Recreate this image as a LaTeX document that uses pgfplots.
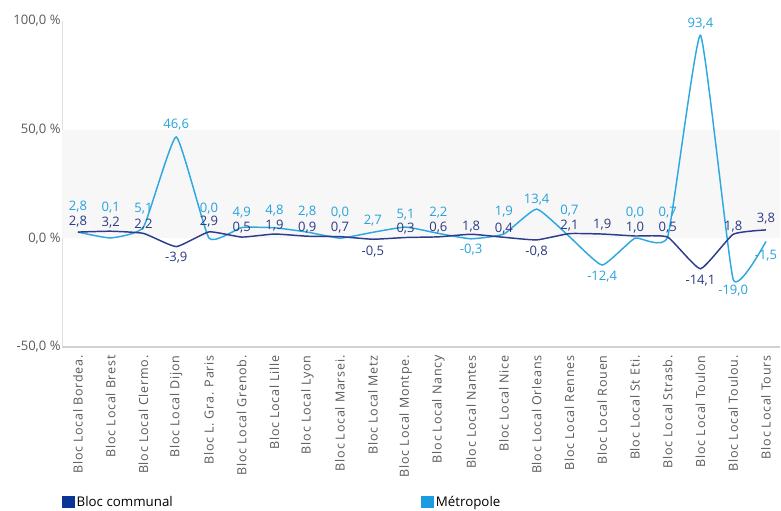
\documentclass[border=0pt]{standalone}
\usepackage{pgfplots}
\pgfplotsset{compat=1.18}
\usepackage{pgfplotstable}
\usepackage{fontspec}
\setmainfont{Open Sans}
\newfontfamily\xlab{Open Sans}[LetterSpace=6]
\definecolor{darkl}{HTML}{2E3C8C}
\definecolor{darkt}{HTML}{2B3A85}
\definecolor{lightl}{HTML}{2EA8E0}
\definecolor{lightt}{HTML}{27A2DC}
\definecolor{legd}{HTML}{0A3597}
\definecolor{legl}{HTML}{1D9BE2}
\definecolor{band}{HTML}{F7F7F7}
\definecolor{tickc}{HTML}{5A5A5A}
\pgfplotstableread{
x dark doff lite loff lx
0  2.8   7.5   2.8  18.75 0
1  3.2   6.75  0.1  22.5  0
2  2.2   6.75  5.1  13.5  0
3  -3.9  -7.9  46.6 9     0
4  2.9   7.5   0.0  22.5  0
5  0.5   6.75  4.9  11.25 0
6  1.9   6     4.8  12.75 0
7  0.9   6.75  2.8  15    0
8  0.7   7.1   0.0  19.5  0
9  -0.5  -9    2.7  9     0
10 0.3   6.75  5.1  9     0
11 0.6   6.75  2.2  15.75 0
12 1.8   6     -0.3 -8.25 0
13 0.4   6.75  1.9  16.5  0
14 -0.8  -9    13.4 6.75  0
15 2.1   6     0.7  19.5  0
16 1.9   6.75  -12.4 -9   0
17 1.0   6     0.0  19.5  0
18 0.5   6.75  0.7  18    0
19 -14.1 -9    93.4 9     0
20 1.8   6     -19.0 -8.25 0
21 3.8   8.25  -1.5 -10.5  0
}\data
\begin{document}
\begin{tikzpicture}
\begin{axis}[
  width=539pt, height=244.5pt, scale only axis,
  xmin=-0.49, xmax=21.43, ymin=-50, ymax=100,
  clip=false,
  axis x line=bottom, axis y line=left,
  axis line style={-},
  x axis line style={draw=black!18, line width=1.4pt},
  y axis line style={draw=black!12, line width=0.6pt},
  major tick length=0pt,
  ytick={-50,0,50,100},
  yticklabels={{-50,0 \%},{0,0 \%},{50,0 \%},{100,0 \%}},
  yticklabel style={font=\fontsize{9.8}{11}\selectfont, text=tickc, xshift=2.5pt},
  xtick={0,...,21},
  xticklabels={Bloc Local Bordea.,Bloc Local Brest,Bloc Local Clermo.,Bloc Local Dijon,Bloc L. Gra. Paris,Bloc Local Grenob.,Bloc Local Lille,Bloc Local Lyon,Bloc Local Marsei.,Bloc Local Metz,Bloc Local Montpe.,Bloc Local Nancy,Bloc Local Nantes,Bloc Local Nice,Bloc Local Orleans,Bloc Local Rennes,Bloc Local Rouen,Bloc Local St Eti.,Bloc Local Strasb.,Bloc Local Toulon,Bloc Local Toulou.,Bloc Local Tours},
  xticklabel shift=3pt,
  xticklabel style={rotate=90, anchor=east, font=\xlab\fontsize{9.4}{11}\selectfont, text=tickc},
  /pgf/number format/.cd, fixed, fixed zerofill, precision=1, use comma, assume math mode=true,
  /pgfplots/.cd,
  legend columns=2,
  legend style={at={(0,-0.477)}, anchor=west, draw=none, fill=none, inner sep=0pt,
    font=\fontsize{10}{12}\selectfont,
    /tikz/every even column/.append style={column sep=185pt},
    nodes={inner sep=1.5pt}},
  legend cell align=left,
]
\fill[band] (rel axis cs:0,0.33333) rectangle (rel axis cs:1,0.66667);
\path (rel axis cs:-0.0862,1.0644) rectangle (rel axis cs:1,-0.4969);
\addplot[lightl, line width=1.1pt, smooth, tension=0.25, forget plot,
  nodes near coords,
  visualization depends on={\thisrow{loff}\as\loff},
  visualization depends on={\thisrow{lx}\as\lxo},
  every node near coord/.append style={anchor=center, yshift=\loff pt, xshift=\lxo pt,
    text=lightt, font=\fontsize{9.8}{11}\selectfont, inner sep=0pt}]
  table[x=x, y=lite]{\data};
\addplot[darkl, line width=1.1pt, smooth, tension=0.25, forget plot,
  nodes near coords,
  visualization depends on={\thisrow{doff}\as\doff},
  every node near coord/.append style={anchor=center, yshift=\doff pt,
    text=darkt, font=\fontsize{9.8}{11}\selectfont, inner sep=0pt}]
  table[x=x, y=dark]{\data};
\addlegendimage{legend image code/.code={\fill[legd] (0pt,-4pt) rectangle (9pt,4.5pt);}}
\addlegendentry{Bloc communal}
\addlegendimage{legend image code/.code={\fill[legl] (0pt,-4pt) rectangle (9pt,4.5pt);}}
\addlegendentry{Métropole}
\end{axis}
\end{tikzpicture}
\end{document}
